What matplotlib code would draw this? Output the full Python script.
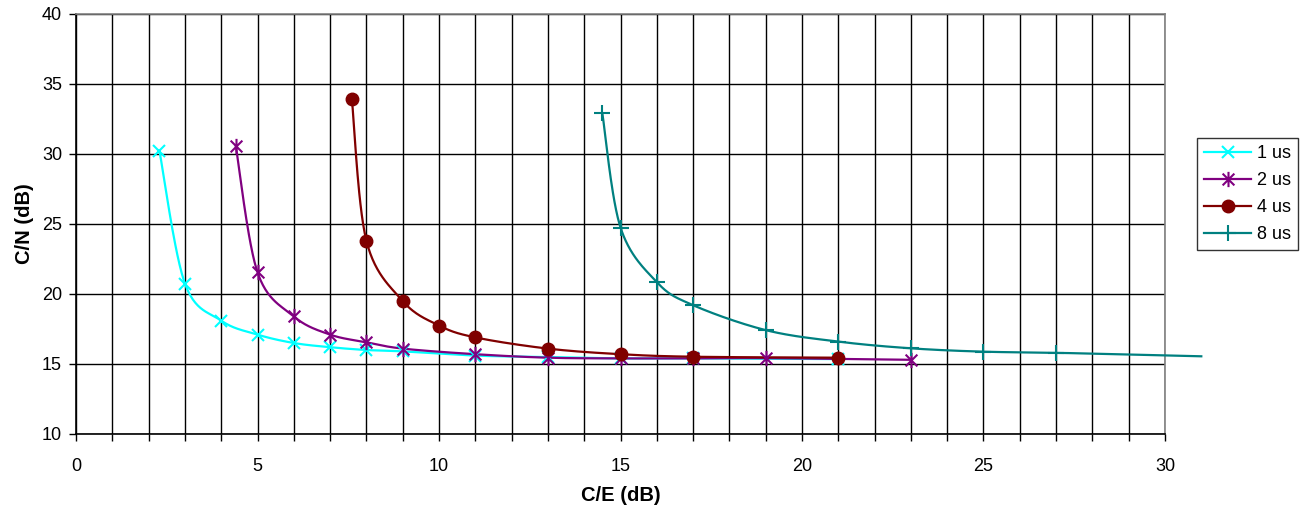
import numpy as np
import matplotlib
matplotlib.use("Agg")
import matplotlib.pyplot as plt
from matplotlib.path import Path
from matplotlib.ticker import MultipleLocator

plt.rcParams['font.family'] = ['Liberation Sans', 'DejaVu Sans']

# C/E (dB) vs C/N (dB) for each delay spread
ce_1us = [2.3, 3, 4, 5, 6, 7, 8, 9, 11, 13, 15, 17, 21]
cn_1us = [30.2, 20.75, 18.1, 17.1, 16.5, 16.2, 16.0, 15.9, 15.6, 15.5, 15.4, 15.4, 15.35]

ce_2us = [4.4, 5, 6, 7, 8, 9, 11, 13, 15, 17, 19, 23]
cn_2us = [30.6, 21.55, 18.4, 17.1, 16.55, 16.1, 15.7, 15.45, 15.4, 15.4, 15.42, 15.3]

ce_4us = [7.6, 8, 9, 10, 11, 13, 15, 17, 21]
cn_4us = [33.9, 23.8, 19.5, 17.75, 16.9, 16.1, 15.7, 15.52, 15.45]

ce_8us = [14.5, 15, 16, 17, 19, 21, 23, 25, 27, 31]
cn_8us = [32.9, 24.75, 20.85, 19.2, 17.42, 16.6, 16.12, 15.88, 15.8, 15.55]

labels = ['1 us', '2 us', '4 us', '8 us']
colors = ['#00FFFF', '#800080', '#800000', '#008080']

# Excel-style star: an x with a vertical bar through it
star = Path([(-1, -1), (1, 1), (-1, 1), (1, -1), (0, -1.3), (0, 1.3)],
            [Path.MOVETO, Path.LINETO, Path.MOVETO, Path.LINETO, Path.MOVETO, Path.LINETO])


def smooth(x, y, sx=36.3, sy=14.0, n=30):
    # Bezier smoothing through the points (Catmull-Rom), done in screen-like units
    p = np.column_stack([np.asarray(x) * sx, np.asarray(y) * sy])
    pts = np.vstack([p[0], p, p[-1]])
    out = []
    for i in range(1, len(pts) - 2):
        p0, p1, p2, p3 = pts[i - 1], pts[i], pts[i + 1], pts[i + 2]
        c1 = p1 + (p2 - p0) / 6.0
        c2 = p2 - (p3 - p1) / 6.0
        t = np.linspace(0, 1, n)[:, None]
        seg = ((1 - t) ** 3) * p1 + 3 * ((1 - t) ** 2) * t * c1 + 3 * (1 - t) * t ** 2 * c2 + t ** 3 * p2
        out.append(seg if i == 1 else seg[1:])
    out = np.vstack(out)
    return out[:, 0] / sx, out[:, 1] / sy


fig = plt.figure(figsize=(13.07, 5.14), dpi=100)
ax = fig.add_axes([76 / 1307, 80 / 514, (1165 - 76) / 1307, 420 / 514])

series = [
    (ce_1us, cn_1us, 'x', 9, 1.5, 'none'),
    (ce_2us, cn_2us, star, 11, 1.5, 'none'),
    (ce_4us, cn_4us, 'o', 9, 1.0, None),
    (ce_8us, cn_8us, '+', 11, 1.5, 'none'),
]

handles = []
for (x, y, mk, ms, mew, mfc), lab, col in zip(series, labels, colors):
    xs, ys = smooth(x, y)
    ax.plot(xs, ys, color=col, lw=1.6, clip_on=False, zorder=3)
    # markers only inside the plotting range
    xm = [a for a in x if a <= 30]
    ym = [b for a, b in zip(x, y) if a <= 30]
    ax.plot(xm, ym, ls='none', marker=mk, ms=ms, mew=mew, color=col,
            mfc=col if mfc is None else mfc, mec=col, zorder=4)
    h, = ax.plot([], [], color=col, lw=1.6, marker=mk, ms=ms, mew=mew,
                 mfc=col if mfc is None else mfc, mec=col)
    handles.append(h)

ax.set_xlim(0, 30)
ax.set_ylim(10, 40)
ax.xaxis.set_major_locator(MultipleLocator(5))
ax.xaxis.set_minor_locator(MultipleLocator(1))
ax.yaxis.set_major_locator(MultipleLocator(5))
ax.grid(True, which='both', axis='x', color='black', lw=1)
ax.grid(True, which='major', axis='y', color='black', lw=1)
ax.set_axisbelow(True)

ax.tick_params(axis='both', which='both', direction='out', color='black',
               labelsize=13, length=5, width=1, pad=5)
ax.tick_params(axis='x', which='major', pad=12)

for s in ['left', 'bottom']:
    ax.spines[s].set_color('black')
    ax.spines[s].set_linewidth(1.2)
for s in ['top', 'right']:
    ax.spines[s].set_color('#808080')
    ax.spines[s].set_linewidth(1.2)

ax.set_xlabel('C/E (dB)', fontsize=14.5, fontweight='bold', labelpad=8)
ax.set_ylabel('C/N (dB)', fontsize=14.5, fontweight='bold', labelpad=6)

leg = fig.legend(handles, labels, loc='center left', bbox_to_anchor=(0.916, 0.622),
                 fontsize=13, frameon=True, fancybox=False, edgecolor='black',
                 handlelength=2.6, handletextpad=0.3, borderpad=0.4, labelspacing=0.55,
                 borderaxespad=0)
leg.get_frame().set_linewidth(1.0)

fig.savefig('out.png', dpi=100, facecolor='white')
